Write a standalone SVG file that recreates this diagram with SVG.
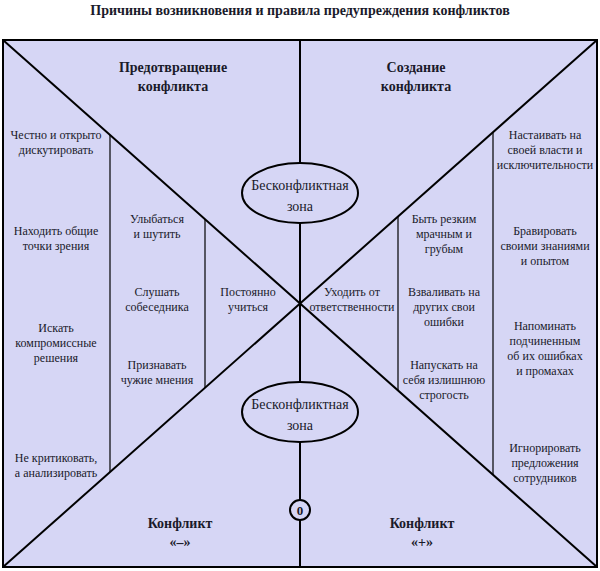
<svg xmlns="http://www.w3.org/2000/svg" width="600" height="571" viewBox="0 0 600 571" font-family="'Liberation Serif', serif">
<style>
text{font-family:'Liberation Serif','Times New Roman','DejaVu Serif',serif;fill:#1a1a2a;text-anchor:middle}
.t{font-size:12px}
.h{font-size:14px;font-weight:bold}
.z{font-size:14px}
.ln{stroke:#000;stroke-width:2;fill:none}
.th{stroke:#000;stroke-width:1.2;fill:none}
</style>
<rect width="600" height="571" fill="#fff"/>
<text class="h" x="300" y="15">Причины возникновения и правила предупреждения конфликтов</text>
<rect x="3" y="40" width="594" height="527" fill="#d6d6f5" stroke="#000" stroke-width="2"/>
<g id="connectors">
<line class="ln" x1="3" y1="40" x2="597" y2="567"/>
<line class="ln" x1="597" y1="40" x2="3" y2="567"/>
<line class="ln" x1="300" y1="40" x2="300" y2="163"/>
<line class="ln" x1="300" y1="223" x2="300" y2="382"/>
<line class="ln" x1="300" y1="442" x2="300" y2="500"/>
<line class="ln" x1="300" y1="520" x2="300" y2="567"/>
<line class="th" x1="110" y1="135" x2="110" y2="472"/>
<line class="th" x1="205" y1="219" x2="205" y2="388"/>
<line class="th" x1="398" y1="217" x2="398" y2="390"/>
<line class="th" x1="493" y1="133" x2="493" y2="475"/>
</g>
<g id="zone-top"><ellipse cx="300" cy="193" rx="58" ry="30" fill="#d6d6f5" class="ln"/><text class="z" x="300" y="190">Бесконфликтная</text><text class="z" x="300" y="211">зона</text></g>
<g id="zone-bottom"><ellipse cx="300" cy="412" rx="58" ry="30" fill="#d6d6f5" class="ln"/><text class="z" x="300" y="409">Бесконфликтная</text><text class="z" x="300" y="430">зона</text></g>
<g id="zero"><circle cx="300" cy="510" r="10" fill="#d6d6f5" class="ln"/><text x="300" y="515" font-size="13" font-weight="bold">0</text></g>
<g id="h-prev"><text class="h" x="173" y="72">Предотвращение</text><text class="h" x="173" y="91">конфликта</text></g>
<g id="h-create"><text class="h" x="416" y="72">Создание</text><text class="h" x="416" y="91">конфликта</text></g>
<g id="h-minus"><text class="h" x="180" y="528">Конфликт</text><text class="h" x="180" y="547">«–»</text></g>
<g id="h-plus"><text class="h" x="422" y="528">Конфликт</text><text class="h" x="422" y="547">«+»</text></g>
<g id="l1"><text class="t" x="56" y="139">Честно и открыто</text><text class="t" x="56" y="154">дискутировать</text></g>
<g id="l2"><text class="t" x="56" y="235">Находить общие</text><text class="t" x="56" y="250">точки зрения</text></g>
<g id="l3"><text class="t" x="56" y="332">Искать</text><text class="t" x="56" y="347">компромиссные</text><text class="t" x="56" y="362">решения</text></g>
<g id="l4"><text class="t" x="56" y="462">Не критиковать,</text><text class="t" x="56" y="477">а анализировать</text></g>
<g id="m1"><text class="t" x="157" y="223">Улыбаться</text><text class="t" x="157" y="238">и шутить</text></g>
<g id="m2"><text class="t" x="157" y="296">Слушать</text><text class="t" x="157" y="311">собеседника</text></g>
<g id="m3"><text class="t" x="157" y="369">Признавать</text><text class="t" x="157" y="384">чужие мнения</text></g>
<g id="c1"><text class="t" x="248" y="296">Постоянно</text><text class="t" x="248" y="311">учиться</text></g>
<g id="c2"><text class="t" x="352" y="296">Уходить от</text><text class="t" x="352" y="311">ответственности</text></g>
<g id="n1"><text class="t" x="444" y="223">Быть резким</text><text class="t" x="444" y="238">мрачным и</text><text class="t" x="444" y="253">грубым</text></g>
<g id="n2"><text class="t" x="444" y="296">Взваливать на</text><text class="t" x="444" y="311">других свои</text><text class="t" x="444" y="326">ошибки</text></g>
<g id="n3"><text class="t" x="444" y="369">Напускать на</text><text class="t" x="444" y="384">себя излишнюю</text><text class="t" x="444" y="399">строгость</text></g>
<g id="r1"><text class="t" x="545" y="139">Настаивать на</text><text class="t" x="545" y="154">своей власти и</text><text class="t" x="545" y="169">исключительности</text></g>
<g id="r2"><text class="t" x="545" y="235">Бравировать</text><text class="t" x="545" y="250">своими знаниями</text><text class="t" x="545" y="265">и опытом</text></g>
<g id="r3"><text class="t" x="545" y="330">Напоминать</text><text class="t" x="545" y="345">подчиненным</text><text class="t" x="545" y="360">об их ошибках</text><text class="t" x="545" y="375">и промахах</text></g>
<g id="r4"><text class="t" x="545" y="452">Игнорировать</text><text class="t" x="545" y="467">предложения</text><text class="t" x="545" y="482">сотрудников</text></g>
</svg>
